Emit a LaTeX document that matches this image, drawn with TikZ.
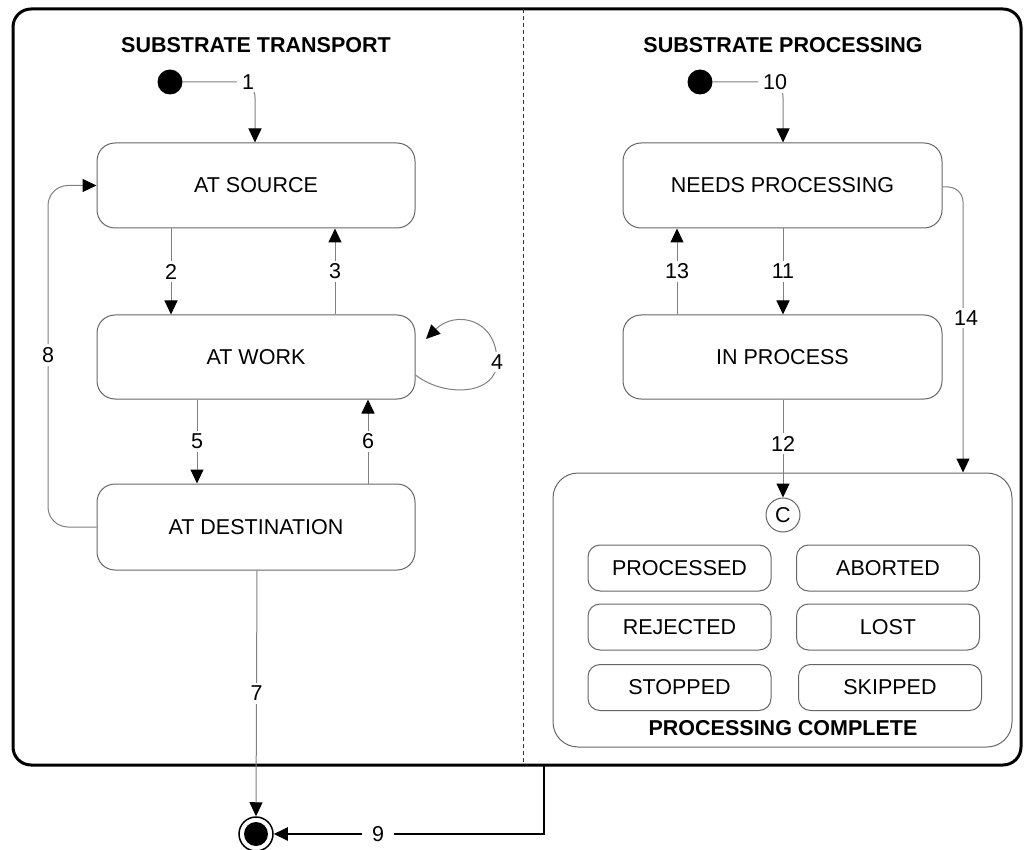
\documentclass[tikz,border=0pt]{standalone}
\usepackage{fontspec}
\setmainfont{Liberation Sans}
\usetikzlibrary{arrows.meta,calc}
\begin{document}
\begin{tikzpicture}[x=1pt,y=-1pt,
  every node/.style={font=\fontsize{21.5}{24}\selectfont},
  statebox/.style={draw=black!60, line width=1pt, rounded corners=18pt, inner sep=0pt, fill=white},
  subbox/.style={draw=black!60, line width=1pt, rounded corners=12pt, inner sep=0pt, minimum width=183pt, minimum height=46pt},
  title/.style={font=\fontsize{21.5}{24}\selectfont\bfseries},
  conn/.style={draw=black!50, line width=1pt, -{Triangle[length=14pt,width=13pt,color=black]}},
  lbl/.style={fill=white, inner xsep=5pt, inner ysep=3pt},
  initial/.style={circle, fill=black, minimum size=25pt, inner sep=0pt},
]
\useasboundingbox (0,0) rectangle (1028,850);

% frame and divider
\draw[line width=3pt, rounded corners=18pt] (13,9) rectangle (1021,765);
\draw[black!80, line width=0.8pt, dash pattern=on 4pt off 3pt] (523,9) -- (523,765);
\coordinate (fb) at (544,765);

% titles
\node[title] (t1) at (256,45) {SUBSTRATE TRANSPORT};
\node[title] (t2) at (783,45) {SUBSTRATE PROCESSING};

% left states
\node[initial] (i1) at (170,82) {};
\node[statebox, minimum width=318pt, minimum height=85pt] (src) at (256,185.5) {AT SOURCE};
\node[statebox, minimum width=318pt, minimum height=84pt] (work) at (256,357) {AT WORK};
\node[statebox, minimum width=318pt, minimum height=86pt] (dest) at (256,527) {AT DESTINATION};
\node[circle, draw=black, line width=1.5pt, minimum size=34pt, inner sep=0pt] (fin) at (256,834) {};
\node[circle, fill=black, minimum size=24pt, inner sep=0pt] (finin) at (fin.center) {};

% right states
\node[initial] (i2) at (700,82) {};
\node[statebox, minimum width=319pt, minimum height=85pt] (needs) at (782.5,185.5) {NEEDS PROCESSING};
\node[statebox, minimum width=319pt, minimum height=84pt] (inproc) at (782.5,357) {IN PROCESS};
\node[draw=black!60, line width=1pt, rounded corners=25pt, minimum width=459pt, minimum height=274pt, inner sep=0pt] (complete) at (782.5,610) {};
\node[title] (ctitle) at (783,728) {PROCESSING COMPLETE};
\node[circle, draw=black!60, line width=1pt, minimum size=34pt, inner sep=0pt] (c) at (783,515) {C};
\node[subbox] (processed) at (679.5,568) {PROCESSED};
\node[subbox] (aborted) at (888,568) {ABORTED};
\node[subbox] (rejected) at (679.5,627) {REJECTED};
\node[subbox] (lost) at (888,627) {LOST};
\node[subbox] (stopped) at (679.5,687.5) {STOPPED};
\node[subbox] (skipped) at (890,687.5) {SKIPPED};

% left connectors
\draw[conn, rounded corners=15pt] (i1.east) -- (255,82) -- (src.north -| 255,0);
\node[lbl] at (248,82) {1};
\draw[conn] (src.south -| 171,0) -- (work.north -| 171,0) node[lbl, pos=0.5] {2};
\draw[conn] (work.north -| 335,0) -- (src.south -| 335,0) node[lbl, pos=0.5] {3};
\draw[conn] ($(work.east)+(0,18)$) .. controls (445,398) and (497,395) .. (497,362) .. controls (497,318) and (455,310) .. (426,339);
\node[lbl] at (497,362) {4};
\draw[conn] (work.south -| 197,0) -- (dest.north -| 197,0) node[lbl, pos=0.5] {5};
\draw[conn] (dest.north -| 368,0) -- (work.south -| 368,0) node[lbl, pos=0.5] {6};
\draw[conn] (dest.south -| 257,0) -- (fin.north) node[lbl, pos=0.5] {7};
\draw[conn, rounded corners=20pt] (dest.west) -- (48,527) -- (48,185.5) -- (src.west);
\node[lbl] at (48,355) {8};
\draw[line width=2pt, -{Triangle[length=14pt,width=13pt]}] (fb) -- (544,834) -- (fin.east);
\node[lbl, inner xsep=10pt] at (378,834) {9};

% right connectors
\draw[conn, rounded corners=15pt] (i2.east) -- (783,82) -- (needs.north -| 783,0);
\node[lbl] at (775,82) {10};
\draw[conn] (needs.south -| 783,0) -- (inproc.north -| 783,0) node[lbl, pos=0.5] {11};
\draw[conn] (inproc.north -| 677,0) -- (needs.south -| 677,0) node[lbl, pos=0.5] {13};
\draw[conn] (inproc.south -| 783,0) -- (c.north) node[lbl, pos=0.45] {12};
\draw[conn, rounded corners=15pt] (needs.east |- 0,187) -- (963,187) -- (complete.north -| 963,0);
\node[lbl] at (966,318) {14};
\end{tikzpicture}
\end{document}
